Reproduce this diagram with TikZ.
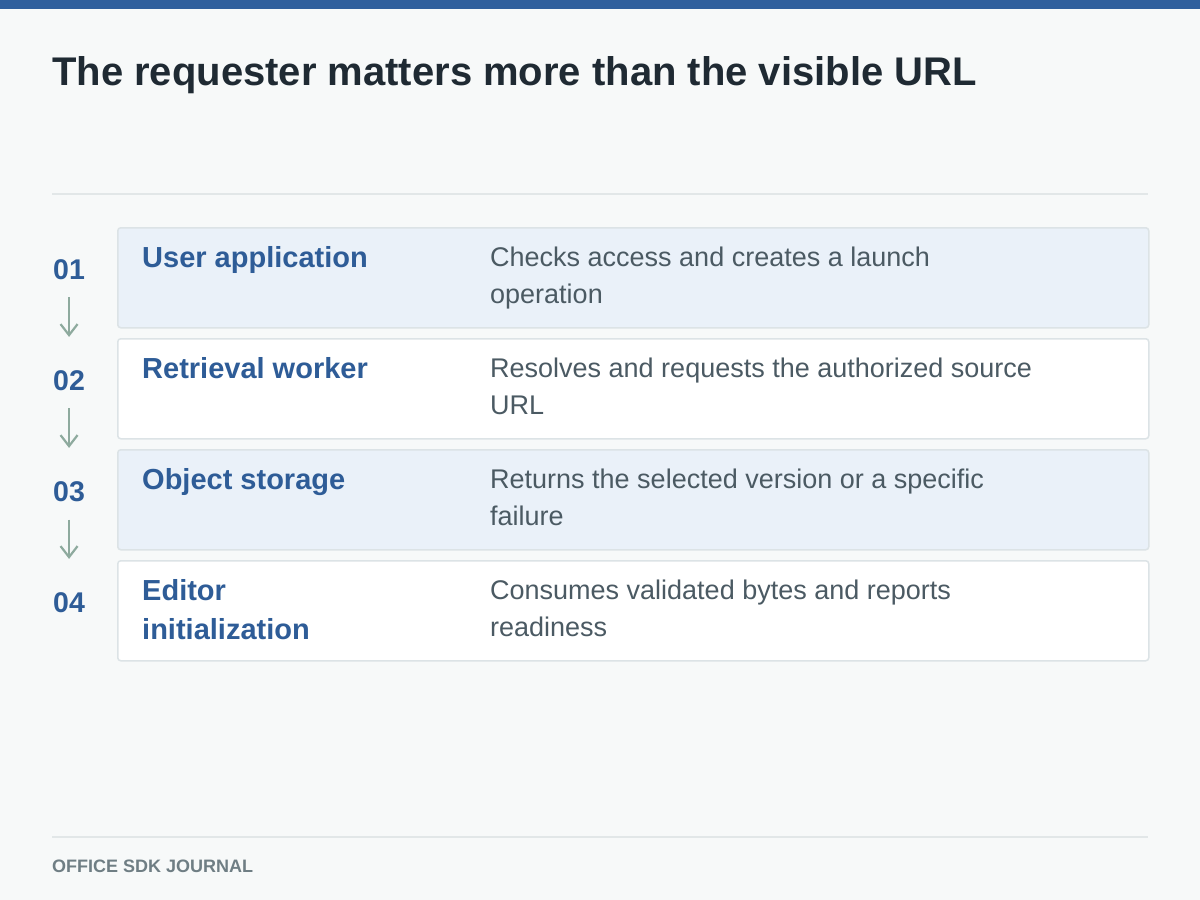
\documentclass[tikz,border=0pt]{standalone}
\usepackage{fontspec}
\setmainfont{Liberation Sans}
\usetikzlibrary{arrows.meta}

\definecolor{pagebg}{HTML}{F7F9F9}
\definecolor{barblue}{HTML}{2F5F9D}
\definecolor{titleink}{HTML}{1F2A33}
\definecolor{stageblue}{HTML}{2E5C97}
\definecolor{descink}{HTML}{4B5A63}
\definecolor{rowblue}{HTML}{EAF1F9}
\definecolor{rowline}{HTML}{DCE3E6}
\definecolor{ruleline}{HTML}{E2E7E8}
\definecolor{arrowgreen}{HTML}{8EAA9E}
\definecolor{footink}{HTML}{6F7E84}

\begin{document}
\begin{tikzpicture}[x=1pt,y=-1pt,
  row/.style={draw=rowline,line width=1.5pt,rounded corners=3pt,anchor=north west,
    minimum width=1031pt,minimum height=100pt,inner sep=0pt},
  stage/.style={anchor=base west,inner sep=0pt,text=stageblue,align=left,
    font=\fontsize{29}{39}\selectfont\bfseries},
  desc/.style={anchor=base west,inner sep=0pt,text=descink,align=left,
    font=\fontsize{27}{37}\selectfont},
  num/.style={anchor=base west,inner sep=0pt,text=stageblue,
    font=\fontsize{28.5}{34}\selectfont\bfseries},
  flow/.style={draw=arrowgreen,line width=2.2pt,-{Straight Barb[length=11pt,width=17pt]},
    shorten <=18pt,shorten >=33pt}]

% Draw the page
\useasboundingbox (0,0) rectangle (1200,900);
\fill[pagebg] (0,0) rectangle (1200,900);
\fill[barblue] (0,0) rectangle (1200,9);

% Title and rules
\node[anchor=base west,inner sep=0pt,text=titleink,font=\fontsize{40}{48}\selectfont\bfseries]
  (title) at (52,85) {The requester matters more than the visible URL};
\draw[ruleline,line width=1.5pt] (52,194) -- (1148,194);
\draw[ruleline,line width=1.5pt] (52,837) -- (1148,837);

%% Draw the rows
\node[row,fill=rowblue] (r1) at (117,227) {};
\node[row,fill=white] (r2) at (117,338) {};
\node[row,fill=rowblue] (r3) at (117,449) {};
\node[row,fill=white] (r4) at (117,560) {};

%% Stage names and descriptions (base = last line)
\node[stage] (s1) at (142,267) {User application};
\node[desc] (d1) at (490,303) {Checks access and creates a launch\\operation};
\node[stage] (s2) at (142,378) {Retrieval worker};
\node[desc] (d2) at (490,414) {Resolves and requests the authorized source\\URL};
\node[stage] (s3) at (142,489) {Object storage};
\node[desc] (d3) at (490,525) {Returns the selected version or a specific\\failure};
\node[stage] (s4) at (142,639) {Editor\\initialization};
\node[desc] (d4) at (490,636) {Consumes validated bytes and reports\\readiness};

%% Step numbers and arrows
\node[num] (n1) at (53,279) {01};
\node[num] (n2) at (53,390) {02};
\node[num] (n3) at (53,501) {03};
\node[num] (n4) at (53,612) {04};
\draw[flow] (n1.south) -- (n2.north);
\draw[flow] (n2.south) -- (n3.north);
\draw[flow] (n3.south) -- (n4.north);

% Footer
\node[anchor=base west,inner sep=0pt,text=footink,font=\fontsize{18}{22}\selectfont\bfseries]
  (foot) at (52,872) {OFFICE SDK JOURNAL};

\end{tikzpicture}
\end{document}
